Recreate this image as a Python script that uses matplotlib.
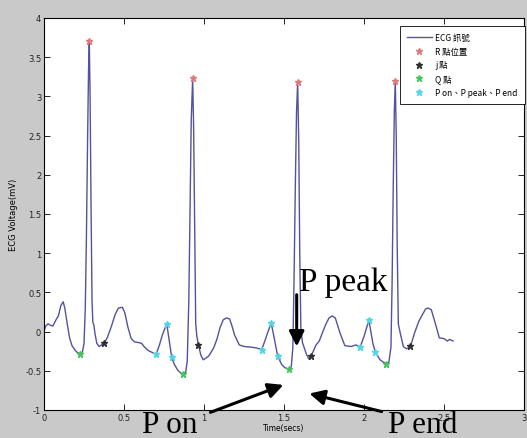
import matplotlib
matplotlib.use("Agg")
import matplotlib.pyplot as plt
from matplotlib.ticker import FuncFormatter, MultipleLocator

# ECG trace (seconds, mV)
time_s = [
    0.000, 0.010, 0.025, 0.040, 0.055, 0.075, 0.090, 0.105, 0.120, 0.130,
    0.145, 0.160, 0.175, 0.195, 0.210, 0.225, 0.240, 0.250, 0.258, 0.265,
    0.272, 0.278, 0.283, 0.288, 0.294, 0.300, 0.305, 0.312, 0.318, 0.330,
    0.345, 0.360, 0.375, 0.395, 0.420, 0.445, 0.465, 0.490, 0.505, 0.525,
    0.545, 0.565, 0.590, 0.610, 0.625, 0.650, 0.680, 0.700, 0.720, 0.740,
    0.767, 0.780, 0.798, 0.815, 0.835, 0.855, 0.870, 0.885, 0.895, 0.905,
    0.912, 0.920, 0.929, 0.935, 0.942, 0.948, 0.955, 0.965, 0.980, 0.995,
    1.010, 1.030, 1.060, 1.080, 1.100, 1.120, 1.140, 1.160, 1.175, 1.190,
    1.220, 1.250, 1.300, 1.330, 1.360, 1.380, 1.400, 1.420, 1.440, 1.460,
    1.485, 1.505, 1.530, 1.545, 1.555, 1.562, 1.570, 1.578, 1.585, 1.592,
    1.598, 1.605, 1.615, 1.640, 1.655, 1.670, 1.700, 1.720, 1.760, 1.780,
    1.800, 1.820, 1.850, 1.880, 1.920, 1.950, 1.975, 2.000, 2.030, 2.055,
    2.070, 2.100, 2.120, 2.140, 2.155, 2.168, 2.175, 2.182, 2.189, 2.195,
    2.201, 2.207, 2.214, 2.225, 2.245, 2.265, 2.290, 2.315, 2.340, 2.360,
    2.385, 2.400, 2.420, 2.450, 2.470, 2.500, 2.520, 2.535, 2.556,
]
voltage_mv = [
    0.00, 0.07, 0.10, 0.08, 0.07, 0.15, 0.20, 0.33, 0.38, 0.30,
    0.10, -0.08, -0.18, -0.24, -0.27, -0.28, -0.26, -0.15, 0.30, 1.20,
    2.40, 3.30, 3.71, 3.00, 1.60, 0.40, 0.12, 0.08, -0.02, -0.15,
    -0.19, -0.17, -0.15, -0.08, 0.06, 0.22, 0.30, 0.31, 0.24, 0.05,
    -0.09, -0.13, -0.14, -0.15, -0.19, -0.24, -0.27, -0.29, -0.18, -0.04,
    0.10, -0.08, -0.33, -0.42, -0.49, -0.53, -0.54, -0.52, -0.38, 0.40,
    1.50, 2.70, 3.23, 2.60, 1.20, 0.10, -0.06, -0.17, -0.30, -0.36,
    -0.34, -0.31, -0.21, -0.10, 0.05, 0.15, 0.175, 0.16, 0.07, -0.04,
    -0.17, -0.19, -0.20, -0.21, -0.23, -0.12, 0.00, 0.11, -0.10, -0.31,
    -0.42, -0.46, -0.48, -0.45, -0.20, 0.60, 1.80, 2.80, 3.18, 2.40,
    1.00, 0.05, -0.14, -0.29, -0.35, -0.31, -0.17, -0.12, 0.09, 0.17,
    0.20, 0.175, -0.02, -0.18, -0.19, -0.17, -0.20, -0.06, 0.145, -0.15,
    -0.26, -0.36, -0.39, -0.41, -0.39, -0.20, 0.60, 1.80, 2.80, 3.20,
    2.50, 1.10, 0.10, -0.01, -0.19, -0.22, -0.19, -0.02, 0.12, 0.20,
    0.29, 0.30, 0.28, 0.07, -0.08, -0.09, -0.12, -0.10, -0.12,
]

r_t = [0.283, 0.929, 1.585, 2.195]
r_v = [3.71, 3.23, 3.18, 3.20]
j_t = [0.375, 0.965, 1.670, 2.290]
j_v = [-0.15, -0.17, -0.31, -0.19]
q_t = [0.225, 0.870, 1.530, 2.140]
q_v = [-0.28, -0.54, -0.48, -0.41]
p_t = [0.700, 0.767, 0.798, 1.360, 1.420, 1.460, 1.975, 2.030, 2.070]
p_v = [-0.29, 0.10, -0.33, -0.23, 0.11, -0.31, -0.20, 0.145, -0.26]

CJK = ["Noto Sans CJK TC", "DejaVu Sans"]

fig = plt.figure(figsize=(5.27, 4.39), dpi=100, facecolor="#c9c9c9")
ax = fig.add_axes([0.0835, 0.0638, 0.911, 0.893])
ax.set_facecolor("white")

ax.plot(time_s, voltage_mv, color="#5252a0", lw=1.0, label="ECG 訊號")
ax.plot(r_t, r_v, ls="none", marker="*", ms=5, color="#e07a7a", label="R 點位置")
ax.plot(j_t, j_v, ls="none", marker="*", ms=5, color="#303030", label="j 點")
ax.plot(q_t, q_v, ls="none", marker="*", ms=5, color="#45c45a", label="Q 點")
ax.plot(p_t, p_v, ls="none", marker="*", ms=5, color="#4fd6e6",
        label="P on、P peak、P end")

ax.set_xlim(0, 3)
ax.set_ylim(-1, 4)
ax.xaxis.set_major_locator(MultipleLocator(0.5))
ax.yaxis.set_major_locator(MultipleLocator(0.5))
fmt = FuncFormatter(lambda v, _: f"{v:g}")
ax.xaxis.set_major_formatter(fmt)
ax.yaxis.set_major_formatter(fmt)
ax.tick_params(direction="in", length=4, width=0.6, labelsize=6,
               labelcolor="#222222", top=True, right=True, pad=2)
for sp in ax.spines.values():
    sp.set_linewidth(0.8)

ax.set_xlabel("Time(secs)", fontsize=5.5, labelpad=1)
ax.set_ylabel("ECG Voltage(mV)", fontsize=6, labelpad=5)

leg = ax.legend(loc="upper right", bbox_to_anchor=(1.001, 0.979),
                prop={"family": CJK, "size": 6}, frameon=True, fancybox=False,
                edgecolor="black", framealpha=1, handlelength=3.0,
                handletextpad=0.4, labelspacing=0.55, borderpad=0.85,
                borderaxespad=0.0)
leg.get_frame().set_linewidth(0.6)

serif = "Liberation Serif"
arrow = dict(arrowstyle="-|>,head_length=0.9,head_width=0.45", color="black",
             lw=2.2, shrinkA=0, shrinkB=0)
ax.text(1.594, 0.53, "P peak", family=serif, fontsize=24, va="baseline")
ax.annotate("", xy=(1.579, -0.19), xytext=(1.579, 0.47),
            arrowprops=arrow, annotation_clip=False)
ax.text(0.6125, -1.285, "P on", family=serif, fontsize=22.5, va="baseline",
        clip_on=False)
ax.annotate("", xy=(1.496, -0.68), xytext=(1.04, -1.03),
            arrowprops=arrow, annotation_clip=False)
ax.text(2.15, -1.285, "P end", family=serif, fontsize=22.5, va="baseline",
        clip_on=False)
ax.annotate("", xy=(1.658, -0.79), xytext=(2.11, -1.02),
            arrowprops=arrow, annotation_clip=False)

fig.savefig("out.png", dpi=100, facecolor=fig.get_facecolor())
